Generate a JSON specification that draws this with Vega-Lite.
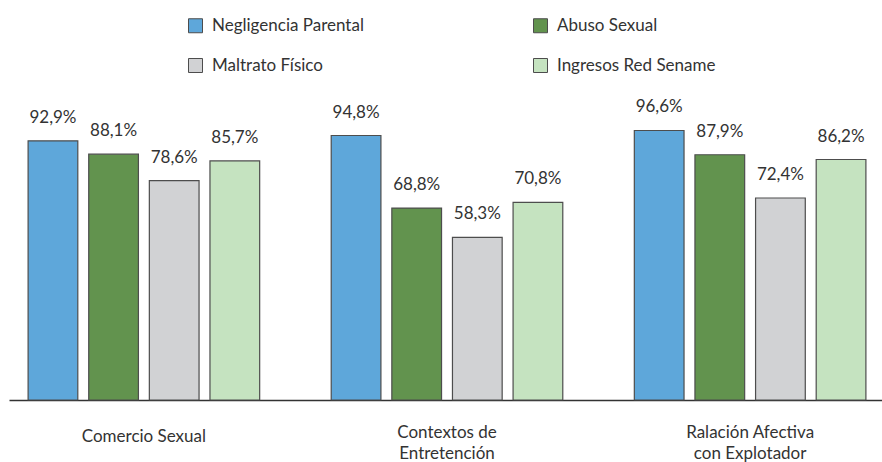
{
  "$schema": "https://vega.github.io/schema/vega-lite/v6.json",
  "autosize": {"type": "none"},
  "width": 873,
  "height": 279,
  "padding": {"left": 9, "top": 121, "right": 0, "bottom": 62},
  "background": "white",
  "config": {
    "view": {"stroke": null},
    "font": "Lato",
    "text": {"font": "Lato"}
  },
  "data": {
    "values": [
      {"grupo": "Comercio Sexual", "serie": "Negligencia Parental", "valor": 92.9, "etiqueta": "92,9%"},
      {"grupo": "Comercio Sexual", "serie": "Abuso Sexual", "valor": 88.1, "etiqueta": "88,1%"},
      {"grupo": "Comercio Sexual", "serie": "Maltrato Físico", "valor": 78.6, "etiqueta": "78,6%"},
      {"grupo": "Comercio Sexual", "serie": "Ingresos Red Sename", "valor": 85.7, "etiqueta": "85,7%"},
      {"grupo": "Contextos de|Entretención", "serie": "Negligencia Parental", "valor": 94.8, "etiqueta": "94,8%"},
      {"grupo": "Contextos de|Entretención", "serie": "Abuso Sexual", "valor": 68.8, "etiqueta": "68,8%"},
      {"grupo": "Contextos de|Entretención", "serie": "Maltrato Físico", "valor": 58.3, "etiqueta": "58,3%"},
      {"grupo": "Contextos de|Entretención", "serie": "Ingresos Red Sename", "valor": 70.8, "etiqueta": "70,8%"},
      {"grupo": "Ralación  Afectiva|con Explotador", "serie": "Negligencia Parental", "valor": 96.6, "etiqueta": "96,6%"},
      {"grupo": "Ralación  Afectiva|con Explotador", "serie": "Abuso Sexual", "valor": 87.9, "etiqueta": "87,9%"},
      {"grupo": "Ralación  Afectiva|con Explotador", "serie": "Maltrato Físico", "valor": 72.4, "etiqueta": "72,4%"},
      {"grupo": "Ralación  Afectiva|con Explotador", "serie": "Ingresos Red Sename", "valor": 86.2, "etiqueta": "86,2%"}
    ]
  },
  "encoding": {
    "x": {
      "field": "grupo",
      "type": "nominal",
      "sort": null,
      "scale": {"range": [0, 876], "paddingInner": 0.2, "paddingOuter": 0.045},
      "axis": {
        "title": null,
        "labelAngle": 0,
        "ticks": false,
        "domainColor": "#333333",
        "domainWidth": 1.5,
        "labelFont": "Lato",
        "labelFontSize": 17,
        "labelColor": "#333333",
        "labelLineHeight": 21,
        "labelPadding": {"expr": "datum.value == 'Comercio Sexual' ? 28 : 24"},
        "labelExpr": "split(datum.label, '|')"
      }
    },
    "xOffset": {
      "field": "serie",
      "type": "nominal",
      "sort": ["Negligencia Parental", "Abuso Sexual", "Maltrato Físico", "Ingresos Red Sename"],
      "scale": {"paddingInner": 0.18, "paddingOuter": 0.09}
    },
    "y": {
      "field": "valor",
      "type": "quantitative",
      "scale": {"domain": [0, 100]},
      "axis": null
    }
  },
  "layer": [
    {
      "mark": {"type": "bar", "stroke": "#4d4d4d", "strokeWidth": 1.2},
      "encoding": {
        "color": {
          "field": "serie",
          "type": "nominal",
          "sort": ["Negligencia Parental", "Abuso Sexual", "Maltrato Físico", "Ingresos Red Sename"],
          "scale": {
            "domain": ["Negligencia Parental", "Abuso Sexual", "Maltrato Físico", "Ingresos Red Sename"],
            "range": ["#5ea7da", "#62934e", "#d1d2d4", "#c5e3c0"]
          },
          "legend": {
            "title": null,
            "orient": "none",
            "legendX": 178,
            "legendY": -104,
            "columns": 2,
            "direction": "horizontal",
            "columnPadding": 167,
            "rowPadding": 21,
            "symbolType": "square",
            "symbolSize": 196,
            "symbolStrokeColor": "#4d4d4d",
            "symbolStrokeWidth": 1,
            "symbolOpacity": 1,
            "labelFont": "Lato",
            "labelFontSize": 17,
            "labelColor": "#333333",
            "labelOffset": 8,
            "labelLimit": 300
          }
        }
      }
    },
    {
      "mark": {"type": "text", "baseline": "alphabetic", "dy": -18, "font": "Lato", "fontSize": 17, "color": "#333333"},
      "encoding": {
        "text": {"field": "etiqueta"}
      }
    }
  ]
}
